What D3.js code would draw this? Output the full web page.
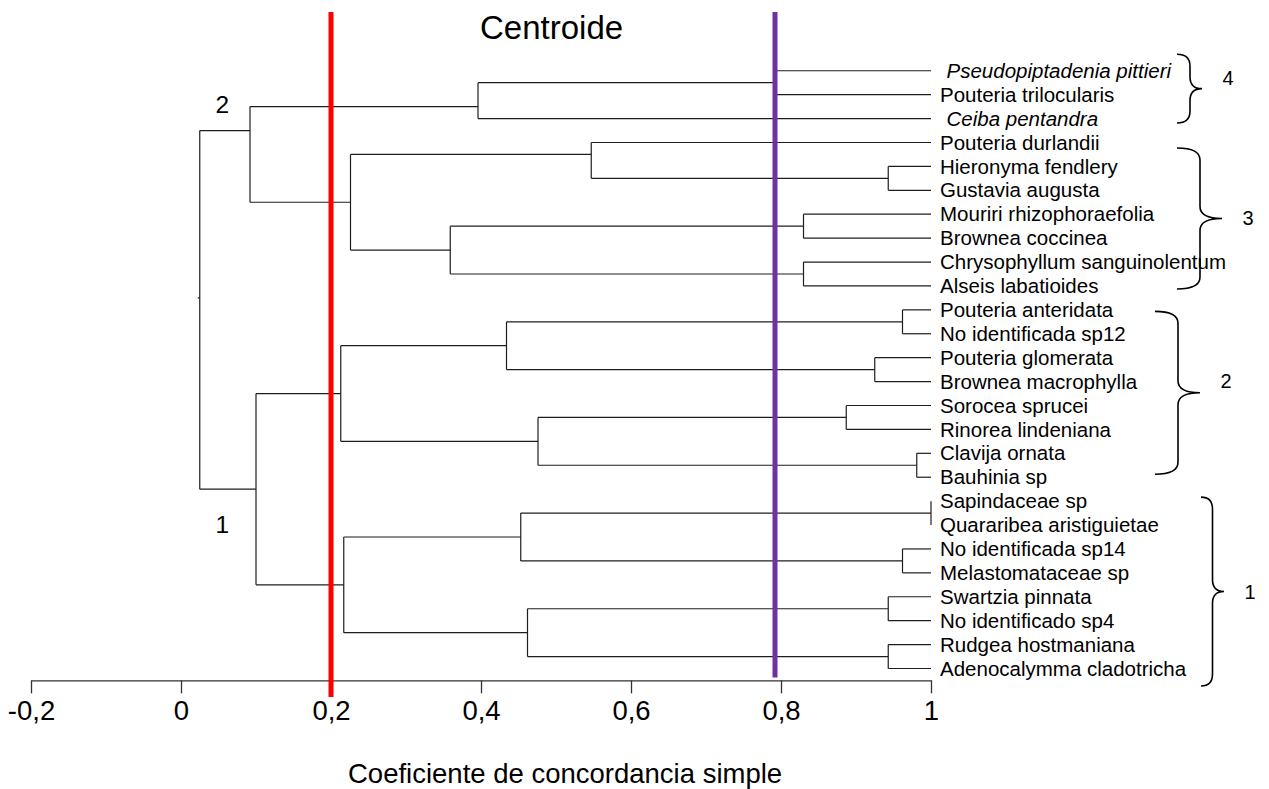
<!DOCTYPE html>
<html>
<head>
<meta charset="utf-8">
<script src="https://cdn.jsdelivr.net/npm/d3@7"></script>
<style>
  html, body { margin: 0; padding: 0; background: #fff; }
  svg { display: block; font-family: "Liberation Sans", Arial, Helvetica, sans-serif; }
</style>
</head>
<body>
<svg id="chart" width="1269" height="789"></svg>
<script>
// Species, top to bottom, in dendrogram order
const leaves = [
  "Pseudopiptadenia pittieri", "Pouteria trilocularis", "Ceiba pentandra",
  "Pouteria durlandii", "Hieronyma fendlery", "Gustavia augusta",
  "Mouriri rhizophoraefolia", "Brownea coccinea", "Chrysophyllum sanguinolentum",
  "Alseis labatioides", "Pouteria anteridata", "No identificada sp12",
  "Pouteria glomerata", "Brownea macrophylla", "Sorocea sprucei",
  "Rinorea lindeniana", "Clavija ornata", "Bauhinia sp",
  "Sapindaceae sp", "Quararibea aristiguietae", "No identificada sp14",
  "Melastomataceae sp", "Swartzia pinnata", "No identificado sp4",
  "Rudgea hostmaniana", "Adenocalymma cladotricha"
];
const italicLeaves = ["Pseudopiptadenia pittieri", "Ceiba pentandra"];

// Agglomeration steps: [first member, second member, similarity at join].
// "#k" refers to the cluster formed in step k.
const merges = [
  ["Pseudopiptadenia pittieri", "Pouteria trilocularis", 0.793], // 0
  ["#0", "Ceiba pentandra", 0.396],                               // 1
  ["Hieronyma fendlery", "Gustavia augusta", 0.943],              // 2
  ["Pouteria durlandii", "#2", 0.547],                            // 3
  ["Mouriri rhizophoraefolia", "Brownea coccinea", 0.830],        // 4
  ["Chrysophyllum sanguinolentum", "Alseis labatioides", 0.830],  // 5
  ["#4", "#5", 0.359],                                            // 6
  ["#3", "#6", 0.226],                                            // 7
  ["#1", "#7", 0.092],                                            // 8
  ["Pouteria anteridata", "No identificada sp12", 0.962],         // 9
  ["Pouteria glomerata", "Brownea macrophylla", 0.925],           // 10
  ["#9", "#10", 0.434],                                           // 11
  ["Sorocea sprucei", "Rinorea lindeniana", 0.887],               // 12
  ["Clavija ornata", "Bauhinia sp", 0.981],                       // 13
  ["#12", "#13", 0.476],                                          // 14
  ["#11", "#14", 0.213],                                          // 15
  ["Sapindaceae sp", "Quararibea aristiguietae", 1.0],            // 16
  ["No identificada sp14", "Melastomataceae sp", 0.962],          // 17
  ["#16", "#17", 0.453],                                          // 18
  ["Swartzia pinnata", "No identificado sp4", 0.943],             // 19
  ["Rudgea hostmaniana", "Adenocalymma cladotricha", 0.943],      // 20
  ["#19", "#20", 0.462],                                          // 21
  ["#18", "#21", 0.217],                                          // 22
  ["#15", "#22", 0.100],                                          // 23
  ["#8", "#23", 0.025]                                            // 24
];

// Cut levels drawn across the tree
const cutLevels = [0.2, 0.792];
const cutColors = ["#ff0000", "#7030a0"];

// Groups marked with braces on the right: [label, first species, last species]
const groups = [
  ["4", "Pseudopiptadenia pittieri", "Ceiba pentandra"],
  ["3", "Pouteria durlandii", "Alseis labatioides"],
  ["2", "Pouteria anteridata", "Bauhinia sp"],
  ["1", "Sapindaceae sp", "Adenocalymma cladotricha"]
];

// Upper and lower main clusters, tagged on the left
const mainClusters = [["2", 8], ["1", 23]];

// Axis
const tickValues = [-0.2, 0, 0.2, 0.4, 0.6, 0.8, 1];
const tickLabels = ["-0,2", "0", "0,2", "0,4", "0,6", "0,8", "1"];
const axisTitle = "Coeficiente de concordancia simple";
const chartTitle = "Centroide";

// ---- layout ----
const axisY = 680.3;
const x = d3.scaleLinear().domain([-0.2, 1]).range([31, 931]);
const y = d3.scalePoint().domain(leaves).range([70.75, 668.5]);

// Brace geometry per group: left end x, spine x, tip x, top/bottom offsets, number offset
const braceLayout = [
  { x0: 1177, xm: 1190, xt: 1202, top: -16.5, bottom: 4.5, numDy: -11 },
  { x0: 1177, xm: 1200, xt: 1222, top: 5.5, bottom: 3, numDy: 0 },
  { x0: 1155, xm: 1178, xt: 1200, top: 1.5, bottom: -3, numDy: -12 },
  { x0: 1201, xm: 1212.5, xt: 1224, top: -4, bottom: 17.5, numDy: 0 }
];

const svg = d3.select("#chart");

// ---- build hierarchy from the merge table ----
const built = [];
const ref = k => (typeof k === "string" && k.startsWith("#"))
  ? built[+k.slice(1)]
  : { name: k, height: 1 };
merges.forEach(([a, b, h], i) => { built[i] = { id: i, height: h, children: [ref(a), ref(b)] }; });
const root = d3.hierarchy(built[built.length - 1]);

// Each join sits between the last species of its first branch and the first of its second
root.eachAfter(n => {
  n.px = x(n.data.height);
  if (!n.children) {
    n.py = y(n.data.name);
  } else {
    const la = n.children[0].leaves();
    const fb = n.children[1].leaves();
    n.py = (y(la[la.length - 1].data.name) + y(fb[0].data.name)) / 2;
  }
});

// ---- dendrogram elbows ----
const segs = [];
root.each(n => {
  if (!n.children) return;
  const [c0, c1] = n.children;
  segs.push([n.px, c0.py, n.px, c1.py]);
  n.children.forEach(c => segs.push([n.px, c.py, c.px, c.py]));
});
segs.push([root.px - 2, root.py, root.px, root.py]);

svg.append("g")
  .attr("stroke", "#1e1e1e")
  .attr("stroke-width", 1.2)
  .attr("fill", "none")
  .selectAll("line")
  .data(segs)
  .join("line")
  .attr("x1", d => d[0]).attr("y1", d => d[1])
  .attr("x2", d => d[2]).attr("y2", d => d[3]);

// ---- species labels ----
svg.append("g")
  .selectAll("text")
  .data(leaves)
  .join("text")
  .attr("x", d => x(1) + (italicLeaves.includes(d) ? 15.5 : 9))
  .attr("y", d => y(d))
  .attr("dy", "0.35em")
  .attr("font-size", 20.5)
  .attr("font-style", d => italicLeaves.includes(d) ? "italic" : "normal")
  .attr("fill", "#000")
  .text(d => d);

// ---- axis ----
const axis = d3.axisBottom(x)
  .tickValues(tickValues)
  .tickFormat((d, i) => tickLabels[i])
  .tickSizeInner(13)
  .tickSizeOuter(0)
  .tickPadding(7);

const gAxis = svg.append("g")
  .attr("transform", `translate(0,${axisY})`)
  .call(axis);
gAxis.select(".domain").attr("stroke", "#333").attr("stroke-width", 1.3);
gAxis.selectAll(".tick line").attr("stroke", "#333").attr("stroke-width", 1.3);
gAxis.selectAll(".tick text")
  .attr("font-size", 27.5)
  .attr("font-family", "'Liberation Sans', Arial, sans-serif")
  .attr("fill", "#000");

// ---- cut lines ----
svg.append("g")
  .selectAll("line")
  .data(cutLevels)
  .join("line")
  .attr("x1", d => x(d)).attr("x2", d => x(d))
  .attr("y1", 12)
  .attr("y2", (d, i) => i === 0 ? 697 : 677.5)
  .attr("stroke", (d, i) => cutColors[i])
  .attr("stroke-width", 5);

// ---- braces and group numbers ----
function bracePath(x0, xm, xt, y0, y1) {
  const ym = (y0 + y1) / 2;
  const r = Math.min(12, (y1 - y0) / 4);
  return `M${x0},${y0} Q${xm},${y0} ${xm},${y0 + r}` +
         ` L${xm},${ym - r} Q${xm},${ym} ${xt},${ym}` +
         ` Q${xm},${ym} ${xm},${ym + r}` +
         ` L${xm},${y1 - r} Q${xm},${y1} ${x0},${y1}`;
}

const gBr = svg.append("g");
groups.forEach(([label, first, last], i) => {
  const L = braceLayout[i];
  const y0 = y(first) + L.top;
  const y1 = y(last) + L.bottom;
  gBr.append("path")
    .attr("d", bracePath(L.x0, L.xm, L.xt, y0, y1))
    .attr("fill", "none")
    .attr("stroke", "#000")
    .attr("stroke-width", 1.6);
  gBr.append("text")
    .attr("x", L.xt + 26)
    .attr("y", (y0 + y1) / 2 + L.numDy)
    .attr("dy", "0.35em")
    .attr("text-anchor", "middle")
    .attr("font-size", 20)
    .text(label);
});

// ---- main cluster tags ----
const byId = new Map();
root.each(n => { if (n.children) byId.set(n.data.id, n); });
mainClusters.forEach(([label, id]) => {
  const n = byId.get(id);
  const top = n.children[0].py;
  const isUpper = label === "2";
  svg.append("text")
    .attr("x", x(0.055))
    .attr("y", isUpper ? top + 6 : n.py + 44)
    .attr("text-anchor", "middle")
    .attr("font-size", 24.5)
    .text(label);
});

// ---- titles ----
svg.append("text")
  .attr("x", 480)
  .attr("y", 39)
  .attr("font-size", 33)
  .text(chartTitle);

svg.append("text")
  .attr("x", 348)
  .attr("y", 782.5)
  .attr("font-size", 27.5)
  .text(axisTitle);
</script>
</body>
</html>
